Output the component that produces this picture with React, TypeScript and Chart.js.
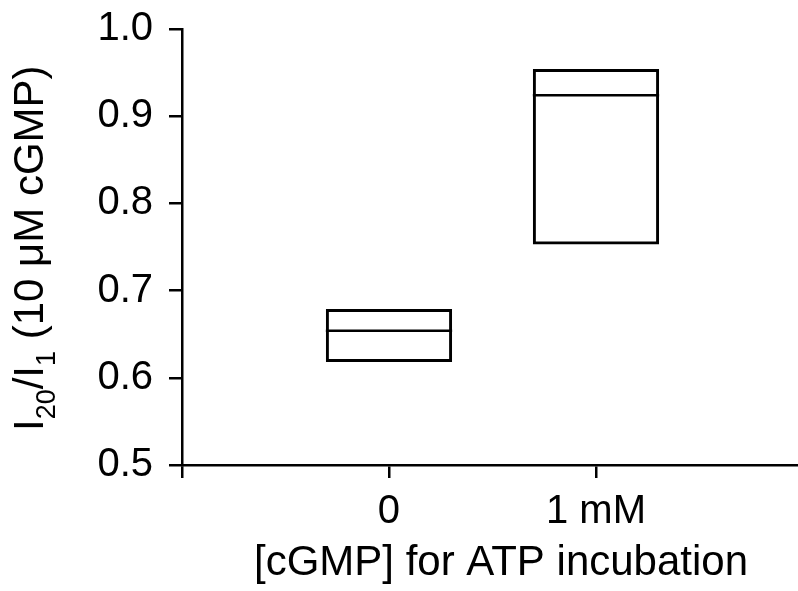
import React, { useEffect, useRef } from 'react';
import { Chart, registerables } from 'chart.js';

Chart.register(...registerables);

// ---- Data ----
const categories: string[] = ['0', '1 mM'];
const categoryPositions: number[] = [1, 2];
const lowerValues: number[] = [0.618, 0.753];
const medianValues: number[] = [0.654, 0.924];
const upperValues: number[] = [0.679, 0.954];
const yTickValues: number[] = [0.5, 0.6, 0.7, 0.8, 0.9, 1.0];
const xTickValues: number[] = [0, 1, 2];
const xTitle = '[cGMP] for ATP incubation';
const yTitleParts: { text: string; sub: boolean }[] = [
  { text: 'I', sub: false },
  { text: '20', sub: true },
  { text: '/I', sub: false },
  { text: '1', sub: true },
  { text: ' (10 μM cGMP)', sub: false },
];

const FONT = '"Liberation Sans", Arial, Helvetica, sans-serif';
const BOX_FRACTION = 0.61;

const titlesPlugin = {
  id: 'customTitles',
  afterDraw(chart: any) {
    const ctx = chart.ctx as CanvasRenderingContext2D;
    ctx.save();
    ctx.fillStyle = '#000';
    // x title
    ctx.font = `42px ${FONT}`;
    ctx.textAlign = 'center';
    ctx.textBaseline = 'alphabetic';
    ctx.fillText(xTitle, 501, 575);
    // y title (rotated, with subscripts)
    ctx.translate(43, 431);
    ctx.rotate(-Math.PI / 2);
    ctx.textAlign = 'left';
    let x = 0;
    for (const p of yTitleParts) {
      ctx.font = p.sub ? `27px ${FONT}` : `42px ${FONT}`;
      ctx.fillText(p.text, x, p.sub ? 12 : 0);
      x += ctx.measureText(p.text).width;
    }
    ctx.restore();
  },
};

export default function App() {
  const canvasRef = useRef<HTMLCanvasElement | null>(null);

  useEffect(() => {
    if (!canvasRef.current) return;
    const medianDatasets = categoryPositions.map((pos, i) => ({
      type: 'line' as const,
      data: [
        { x: pos - BOX_FRACTION / 2, y: medianValues[i] },
        { x: pos + BOX_FRACTION / 2, y: medianValues[i] },
      ],
      borderColor: '#000',
      borderWidth: 2.5,
      pointRadius: 0,
      fill: false,
    }));

    const chart = new Chart(canvasRef.current, {
      type: 'bar',
      data: {
        datasets: [
          {
            type: 'bar' as const,
            data: categoryPositions.map((pos, i) => ({ x: pos, y: [lowerValues[i], upperValues[i]] })) as any,
            backgroundColor: 'rgba(255,255,255,0)',
            borderColor: '#000',
            borderWidth: 3,
            borderSkipped: false,
            barPercentage: 1,
            categoryPercentage: BOX_FRACTION,
          },
          ...medianDatasets,
        ] as any,
      },
      options: {
        animation: false,
        responsive: true,
        maintainAspectRatio: false,
        layout: { padding: { top: 29, right: 0, left: 0, bottom: 0 } },
        plugins: { legend: { display: false }, tooltip: { enabled: false } },
        scales: {
          x: {
            type: 'linear',
            min: 0,
            max: 2.976,
            offset: false,
            afterBuildTicks: (scale: any) => {
              scale.ticks = xTickValues.map((v) => ({ value: v }));
            },
            afterFit: (scale: any) => {
              scale.height = 126;
              scale.paddingLeft = 0;
              scale.paddingRight = 0;
            },
            ticks: {
              autoSkip: false,
              maxRotation: 0,
              padding: 10,
              color: '#000',
              font: { family: FONT, size: 40 },
              callback: (v: any) => {
                const idx = categoryPositions.indexOf(Number(v));
                return idx >= 0 ? categories[idx] : '';
              },
            },
            grid: {
              display: true,
              offset: false,
              drawOnChartArea: false,
              drawTicks: true,
              tickLength: 13,
              color: '#000',
              lineWidth: 2.5,
            },
            border: { display: true, color: '#000', width: 2.5 },
          },
          y: {
            type: 'linear',
            min: 0.5,
            max: 1.0,
            afterBuildTicks: (scale: any) => {
              scale.ticks = yTickValues.map((v) => ({ value: v }));
            },
            afterFit: (scale: any) => {
              scale.width = 182;
              scale.paddingTop = 0;
              scale.paddingBottom = 0;
            },
            ticks: {
              padding: 16,
              color: '#000',
              font: { family: FONT, size: 40 },
              callback: (v: any) => Number(v).toFixed(1),
            },
            grid: {
              display: true,
              drawOnChartArea: false,
              drawTicks: true,
              tickLength: 13,
              color: '#000',
              lineWidth: 2.5,
            },
            border: { display: true, color: '#000', width: 2.5 },
          },
        },
      },
      plugins: [titlesPlugin],
    });
    return () => chart.destroy();
  }, []);

  return (
    <div style={{ position: 'absolute', left: 0, top: 0, width: 798, height: 591, background: '#fff' }}>
      <canvas ref={canvasRef} />
    </div>
  );
}
